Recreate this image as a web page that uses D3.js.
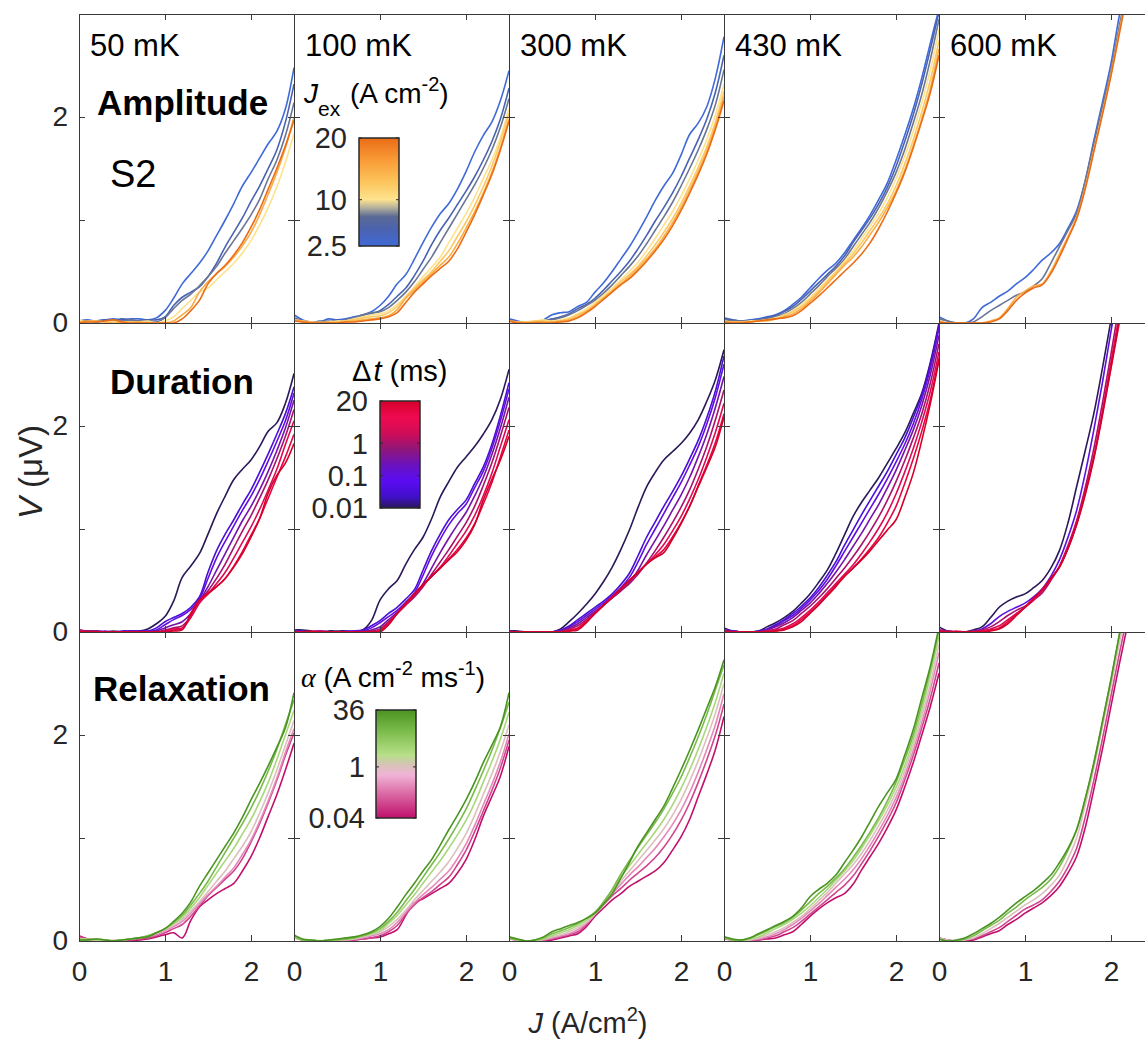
<!DOCTYPE html>
<html>
<head>
<meta charset="utf-8">
<script src="https://cdn.jsdelivr.net/npm/d3@7"></script>
<style>
	body { margin: 0; background: #fff; }
	svg { display: block; font-family: "Liberation Sans", Arial, Helvetica, sans-serif; }
</style>
</head>
<body>
<svg id="chart" width="1145" height="1042"></svg>
<script>
/* V(J) curves at five temperatures, three excitation protocols */

var temps = ["50 mK", "100 mK", "300 mK", "430 mK", "600 mK"];
var jGrid = [0, 0.1, 0.2, 0.3, 0.4, 0.5, 0.6, 0.7, 0.8, 0.9, 1, 1.1, 1.2, 1.3, 1.4, 1.5, 1.6, 1.7, 1.8, 1.9, 2, 2.1, 2.2, 2.3, 2.4, 2.5];

// amplitude J_ex (A cm-2)
var ampLevels = [2.5, 5, 7.5, 10, 12.5, 15, 20];
var ampTicks = [2.5, 10, 20];
var amp50 = [
	[0.02,0.03,0.02,0.03,0.04,0.03,0.04,0.04,0.03,0.05,0.12,0.24,0.38,0.48,0.58,0.70,0.85,1.00,1.16,1.33,1.46,1.60,1.74,1.86,2.08,2.48],
	[0.02,0.01,0.02,0.03,0.02,0.04,0.03,0.02,0.03,0.03,0.06,0.17,0.25,0.30,0.35,0.45,0.58,0.74,0.88,1.02,1.18,1.33,1.50,1.68,1.95,2.32],
	[0.01,0.02,0.01,0.02,0.03,0.02,0.03,0.02,0.02,0.01,0.05,0.14,0.22,0.28,0.36,0.45,0.55,0.68,0.80,0.92,1.05,1.20,1.40,1.58,1.82,2.14],
	[0.03,0.01,0.02,0.01,0.02,0.01,0.00,0.01,0.02,0.00,0.02,0.06,0.14,0.22,0.30,0.34,0.42,0.50,0.58,0.68,0.80,0.95,1.12,1.32,1.56,1.84],
	null,
	[0.01,0.02,0.02,0.01,0.00,0.01,0.01,0.01,0.00,0.00,0.00,0.02,0.08,0.15,0.30,0.40,0.48,0.55,0.64,0.75,0.88,1.05,1.25,1.46,1.70,2.00],
	[0.00,0.01,0.01,0.02,0.03,0.01,0.00,0.00,0.00,0.00,0.00,0.00,0.04,0.12,0.22,0.38,0.48,0.56,0.66,0.78,0.93,1.10,1.30,1.50,1.72,1.97]
];
var amp100 = [
	[0.08,0.03,0.01,0.01,0.04,0.03,0.04,0.06,0.08,0.11,0.17,0.26,0.38,0.47,0.62,0.78,0.93,1.06,1.16,1.30,1.47,1.66,1.82,1.95,2.16,2.45],
	[0.05,0.02,0.00,0.02,0.01,0.03,0.02,0.04,0.07,0.09,0.12,0.18,0.26,0.34,0.46,0.60,0.76,0.90,1.02,1.15,1.28,1.42,1.58,1.76,1.98,2.28],
	[0.04,0.01,0.00,0.01,0.02,0.01,0.03,0.05,0.08,0.10,0.11,0.15,0.22,0.30,0.40,0.52,0.64,0.78,0.92,1.06,1.20,1.34,1.50,1.68,1.90,2.18],
	[0.03,0.02,0.01,0.00,0.01,0.02,0.02,0.04,0.06,0.08,0.09,0.12,0.18,0.26,0.35,0.45,0.54,0.64,0.78,0.92,1.06,1.22,1.40,1.58,1.80,2.08],
	[0.04,0.01,0.00,0.01,0.00,0.01,0.02,0.03,0.05,0.06,0.07,0.10,0.16,0.25,0.34,0.42,0.50,0.60,0.70,0.84,0.98,1.14,1.32,1.52,1.76,2.04],
	[0.03,0.02,0.01,0.00,0.01,0.00,0.01,0.02,0.03,0.04,0.05,0.07,0.13,0.24,0.32,0.40,0.48,0.56,0.64,0.77,0.92,1.08,1.26,1.46,1.70,1.98],
	[0.02,0.01,0.00,0.00,0.00,0.00,0.01,0.01,0.02,0.03,0.04,0.06,0.10,0.20,0.30,0.38,0.46,0.53,0.60,0.72,0.88,1.05,1.24,1.44,1.68,1.96]
];
var amp300 = [
	[0.04,0.02,0.00,0.00,0.03,0.08,0.10,0.11,0.16,0.20,0.30,0.39,0.50,0.62,0.74,0.88,1.03,1.19,1.33,1.45,1.63,1.83,1.94,2.10,2.38,2.78],
	[0.03,0.01,0.00,0.01,0.02,0.04,0.06,0.09,0.14,0.18,0.24,0.32,0.41,0.50,0.60,0.72,0.85,0.99,1.12,1.26,1.42,1.60,1.78,1.98,2.24,2.60],
	[0.03,0.01,0.00,0.00,0.02,0.03,0.05,0.08,0.12,0.17,0.22,0.29,0.37,0.46,0.55,0.65,0.77,0.90,1.03,1.17,1.33,1.50,1.68,1.88,2.12,2.46],
	[0.02,0.00,0.01,0.02,0.03,0.02,0.03,0.05,0.09,0.14,0.20,0.27,0.34,0.42,0.50,0.59,0.70,0.82,0.95,1.08,1.23,1.40,1.58,1.78,2.02,2.32],
	[0.02,0.01,0.01,0.02,0.02,0.01,0.02,0.04,0.08,0.12,0.18,0.25,0.32,0.40,0.47,0.55,0.65,0.76,0.88,1.01,1.16,1.33,1.51,1.71,1.95,2.25],
	[0.02,0.01,0.00,0.01,0.01,0.01,0.02,0.03,0.06,0.11,0.17,0.24,0.31,0.38,0.45,0.53,0.62,0.72,0.84,0.97,1.12,1.29,1.47,1.67,1.91,2.20],
	[0.02,0.00,0.00,0.00,0.00,0.00,0.01,0.02,0.05,0.10,0.16,0.23,0.30,0.37,0.43,0.51,0.60,0.70,0.81,0.94,1.09,1.26,1.44,1.64,1.88,2.16]
];
var amp430 = [
	[0.05,0.03,0.02,0.03,0.04,0.06,0.08,0.12,0.18,0.25,0.34,0.43,0.51,0.58,0.68,0.80,0.92,1.05,1.20,1.36,1.58,1.82,2.08,2.38,2.72,3.05],
	[0.04,0.03,0.02,0.02,0.03,0.05,0.07,0.11,0.16,0.23,0.31,0.39,0.47,0.55,0.65,0.78,0.90,1.02,1.16,1.32,1.52,1.76,2.02,2.32,2.66,3.02],
	[0.03,0.02,0.02,0.02,0.03,0.04,0.06,0.09,0.14,0.20,0.28,0.36,0.45,0.53,0.62,0.74,0.86,0.98,1.12,1.28,1.46,1.68,1.94,2.22,2.56,2.95],
	[0.02,0.01,0.01,0.02,0.02,0.03,0.05,0.08,0.12,0.18,0.25,0.33,0.42,0.50,0.60,0.70,0.82,0.94,1.07,1.22,1.40,1.62,1.86,2.14,2.46,2.85],
	[0.02,0.01,0.01,0.01,0.02,0.03,0.04,0.07,0.11,0.16,0.23,0.31,0.40,0.49,0.58,0.67,0.78,0.90,1.02,1.16,1.33,1.54,1.78,2.05,2.36,2.74],
	[0.01,0.01,0.01,0.01,0.02,0.02,0.04,0.06,0.09,0.14,0.21,0.29,0.38,0.47,0.56,0.64,0.74,0.86,0.98,1.12,1.28,1.48,1.72,1.98,2.28,2.66],
	[0.01,0.00,0.00,0.01,0.02,0.03,0.04,0.05,0.07,0.12,0.19,0.26,0.34,0.42,0.50,0.58,0.67,0.78,0.92,1.08,1.26,1.46,1.70,1.96,2.24,2.60]
];
var amp600 = [
	[0.06,0.02,0.00,0.00,0.04,0.15,0.20,0.26,0.31,0.38,0.44,0.52,0.61,0.68,0.77,0.92,1.09,1.38,1.77,2.14,2.52,3.00,3.40,3.80,4.20,4.60],
	null,
	[0.04,0.02,0.00,0.00,0.01,0.06,0.12,0.17,0.22,0.27,0.30,0.36,0.43,0.58,0.74,0.90,1.06,1.38,1.74,2.10,2.45,2.90,3.30,3.70,4.10,4.50],
	null,
	null,
	[0.02,0.00,0.00,0.00,0.00,0.00,0.02,0.05,0.14,0.25,0.31,0.36,0.38,0.50,0.67,0.84,1.03,1.32,1.68,2.04,2.42,2.85,3.30,3.70,4.10,4.50],
	[0.01,0.00,0.00,0.00,0.00,0.00,0.01,0.04,0.12,0.22,0.29,0.34,0.37,0.48,0.64,0.82,1.01,1.30,1.66,2.02,2.40,2.82,3.25,3.70,4.10,4.50]
];

// pulse duration Δt (ms)
var durLevels = [0.01, 0.03, 0.1, 0.3, 1, 3, 10, 20];
var durTicks = [0.01, 0.1, 1, 20];
var dur50 = [
	[0.02,0.01,0.01,0.00,0.01,0.00,0.01,0.01,0.03,0.08,0.15,0.30,0.53,0.64,0.76,0.95,1.15,1.32,1.48,1.58,1.67,1.80,1.95,2.03,2.22,2.51],
	[0.01,0.00,0.01,0.00,0.00,0.01,0.01,0.01,0.01,0.04,0.10,0.14,0.18,0.24,0.34,0.58,0.79,0.95,1.09,1.24,1.38,1.55,1.73,1.92,2.12,2.38],
	[0.01,0.00,0.00,0.01,0.00,0.00,0.01,0.00,0.01,0.02,0.07,0.12,0.16,0.22,0.32,0.52,0.72,0.88,1.03,1.18,1.32,1.48,1.66,1.85,2.05,2.32],
	[0.01,0.01,0.00,0.00,0.00,0.00,0.00,0.00,0.00,0.01,0.04,0.07,0.10,0.18,0.30,0.44,0.60,0.76,0.92,1.08,1.22,1.38,1.56,1.76,1.98,2.25],
	[0.02,0.01,0.01,0.00,0.00,0.00,0.00,0.00,0.00,0.00,0.02,0.04,0.06,0.15,0.30,0.40,0.52,0.66,0.82,0.98,1.13,1.30,1.48,1.68,1.90,2.16],
	[0.01,0.00,0.00,0.00,0.00,0.00,0.00,0.00,0.00,0.00,0.01,0.03,0.04,0.14,0.28,0.37,0.47,0.58,0.72,0.87,1.02,1.19,1.38,1.58,1.82,2.05],
	[0.01,0.00,0.00,0.00,0.00,0.00,0.00,0.00,0.00,0.00,0.00,0.02,0.03,0.16,0.30,0.37,0.44,0.52,0.64,0.78,0.94,1.10,1.30,1.50,1.70,1.92],
	[0.00,0.00,0.00,0.00,0.00,0.00,0.00,0.00,0.00,0.00,0.00,0.01,0.02,0.18,0.31,0.38,0.44,0.52,0.63,0.76,0.92,1.10,1.35,1.52,1.64,1.83]
];
var dur100 = [
	[0.02,0.02,0.01,0.00,0.01,0.01,0.01,0.00,0.02,0.11,0.31,0.42,0.50,0.66,0.80,0.92,1.10,1.31,1.46,1.60,1.70,1.80,1.92,2.06,2.26,2.55],
	[0.01,0.01,0.00,0.01,0.00,0.00,0.01,0.01,0.02,0.06,0.11,0.18,0.24,0.32,0.41,0.60,0.79,0.95,1.09,1.19,1.28,1.44,1.60,1.82,2.10,2.42],
	[0.01,0.00,0.00,0.01,0.00,0.00,0.00,0.01,0.01,0.04,0.09,0.15,0.21,0.29,0.38,0.55,0.74,0.90,1.04,1.15,1.24,1.40,1.56,1.78,2.05,2.36],
	[0.01,0.00,0.00,0.00,0.00,0.00,0.00,0.00,0.01,0.02,0.05,0.12,0.19,0.27,0.35,0.47,0.62,0.77,0.91,1.04,1.16,1.32,1.50,1.72,1.98,2.28],
	[0.01,0.00,0.00,0.00,0.00,0.00,0.00,0.00,0.00,0.01,0.03,0.10,0.18,0.26,0.34,0.44,0.56,0.68,0.80,0.93,1.06,1.22,1.42,1.64,1.90,2.18],
	[0.00,0.00,0.00,0.01,0.00,0.00,0.00,0.00,0.00,0.00,0.02,0.09,0.18,0.27,0.36,0.45,0.54,0.63,0.74,0.86,0.98,1.13,1.32,1.54,1.80,2.06],
	[0.00,0.00,0.01,0.00,0.00,0.00,0.00,0.00,0.00,0.00,0.01,0.08,0.18,0.28,0.37,0.46,0.54,0.62,0.71,0.80,0.91,1.05,1.24,1.45,1.70,1.96],
	[0.00,0.00,0.00,0.00,0.00,0.00,0.00,0.00,0.00,0.00,0.00,0.07,0.18,0.28,0.37,0.46,0.54,0.62,0.70,0.78,0.89,1.04,1.28,1.48,1.67,1.90]
];
var dur300 = [
	[0.01,0.01,0.00,0.00,0.00,0.00,0.03,0.10,0.18,0.27,0.37,0.49,0.63,0.80,0.99,1.21,1.41,1.55,1.67,1.75,1.83,1.93,2.06,2.24,2.45,2.74],
	[0.01,0.00,0.00,0.00,0.00,0.00,0.02,0.06,0.12,0.18,0.24,0.30,0.37,0.46,0.57,0.74,0.92,1.07,1.22,1.36,1.51,1.68,1.86,2.08,2.34,2.68],
	[0.01,0.00,0.00,0.00,0.00,0.00,0.01,0.05,0.10,0.16,0.22,0.28,0.35,0.43,0.53,0.68,0.85,1.00,1.15,1.30,1.45,1.62,1.80,2.02,2.28,2.60],
	[0.01,0.00,0.00,0.00,0.00,0.00,0.01,0.04,0.08,0.14,0.20,0.26,0.33,0.40,0.48,0.60,0.75,0.89,1.03,1.18,1.33,1.50,1.70,1.92,2.18,2.48],
	[0.00,0.00,0.00,0.00,0.00,0.00,0.00,0.03,0.06,0.12,0.19,0.26,0.33,0.40,0.47,0.56,0.67,0.79,0.92,1.06,1.21,1.38,1.58,1.80,2.06,2.35],
	[0.00,0.00,0.00,0.00,0.00,0.00,0.00,0.02,0.04,0.11,0.18,0.26,0.34,0.42,0.50,0.58,0.66,0.75,0.85,0.98,1.12,1.29,1.48,1.70,1.94,2.22],
	[0.00,0.00,0.00,0.00,0.00,0.00,0.00,0.01,0.03,0.10,0.18,0.26,0.34,0.42,0.50,0.58,0.66,0.73,0.80,0.92,1.06,1.22,1.42,1.62,1.84,2.12],
	[0.00,0.00,0.00,0.00,0.00,0.00,0.00,0.01,0.02,0.09,0.18,0.26,0.34,0.42,0.50,0.58,0.66,0.72,0.77,0.90,1.05,1.22,1.41,1.60,1.80,2.09]
];
var dur430 = [
	[0.04,0.01,0.00,0.00,0.01,0.05,0.09,0.14,0.20,0.28,0.37,0.48,0.60,0.76,0.94,1.12,1.26,1.38,1.50,1.64,1.78,1.93,2.12,2.32,2.62,3.00],
	[0.02,0.01,0.00,0.00,0.01,0.03,0.07,0.12,0.18,0.25,0.33,0.43,0.55,0.68,0.84,0.99,1.14,1.28,1.42,1.56,1.72,1.88,2.08,2.30,2.60,2.98],
	[0.02,0.01,0.00,0.00,0.00,0.02,0.06,0.11,0.16,0.23,0.31,0.40,0.51,0.64,0.78,0.92,1.06,1.20,1.34,1.49,1.65,1.82,2.02,2.26,2.56,2.95],
	[0.01,0.01,0.00,0.00,0.00,0.02,0.05,0.09,0.14,0.21,0.28,0.37,0.47,0.58,0.70,0.83,0.96,1.10,1.24,1.40,1.57,1.76,1.96,2.20,2.50,2.88],
	[0.01,0.00,0.00,0.00,0.00,0.01,0.03,0.07,0.11,0.18,0.25,0.33,0.42,0.52,0.62,0.73,0.85,0.98,1.12,1.28,1.46,1.66,1.88,2.12,2.42,2.80],
	[0.01,0.00,0.00,0.00,0.00,0.01,0.02,0.04,0.08,0.14,0.21,0.29,0.38,0.47,0.56,0.65,0.76,0.88,1.01,1.16,1.34,1.55,1.78,2.04,2.34,2.72],
	[0.01,0.00,0.00,0.00,0.00,0.00,0.01,0.03,0.06,0.12,0.19,0.27,0.36,0.45,0.54,0.62,0.71,0.81,0.92,1.06,1.22,1.44,1.68,1.95,2.26,2.66],
	[0.00,0.00,0.00,0.00,0.00,0.00,0.01,0.02,0.05,0.10,0.18,0.26,0.35,0.44,0.54,0.62,0.70,0.79,0.89,0.99,1.09,1.30,1.54,1.86,2.22,2.64]
];
var dur600 = [
	[0.05,0.01,0.00,0.00,0.02,0.05,0.14,0.24,0.30,0.34,0.37,0.43,0.50,0.62,0.79,1.06,1.41,1.76,2.12,2.56,3.03,3.50,4.00,4.50,5.00,5.50],
	null,
	[0.02,0.01,0.00,0.00,0.01,0.03,0.08,0.15,0.20,0.24,0.28,0.34,0.42,0.54,0.70,0.92,1.18,1.54,1.96,2.42,2.92,3.40,3.90,4.40,4.90,5.40],
	null,
	[0.02,0.01,0.00,0.00,0.01,0.02,0.05,0.10,0.16,0.21,0.25,0.31,0.38,0.50,0.64,0.84,1.08,1.40,1.78,2.22,2.70,3.20,3.70,4.20,4.70,5.20],
	[0.01,0.00,0.00,0.00,0.00,0.01,0.03,0.06,0.12,0.18,0.24,0.31,0.40,0.51,0.63,0.82,1.05,1.36,1.70,2.14,2.62,3.10,3.60,4.10,4.60,5.10],
	[0.01,0.00,0.01,0.00,0.00,0.01,0.02,0.04,0.10,0.17,0.24,0.32,0.41,0.52,0.63,0.81,1.05,1.35,1.70,2.12,2.58,3.05,3.50,4.00,4.50,5.00],
	[0.00,0.00,0.00,0.00,0.00,0.00,0.01,0.03,0.08,0.16,0.24,0.33,0.41,0.52,0.63,0.81,1.04,1.33,1.68,2.10,2.56,3.02,3.50,4.00,4.50,5.00]
];

// relaxation rate α (A cm-2 ms-1)
var relLevels = [0.04, 0.1, 0.3, 1, 3, 10, 36];
var relTicks = [0.04, 1, 36];
var rel50 = [
	[0.05,0.02,0.01,0.00,0.00,0.00,0.00,0.01,0.02,0.04,0.06,0.08,0.03,0.20,0.33,0.40,0.46,0.51,0.56,0.68,0.82,1.00,1.21,1.42,1.66,1.92],
	[0.04,0.02,0.01,0.00,0.00,0.01,0.01,0.02,0.03,0.05,0.08,0.12,0.16,0.24,0.34,0.44,0.52,0.60,0.68,0.80,0.96,1.14,1.34,1.56,1.80,2.02],
	[0.03,0.01,0.00,0.01,0.00,0.01,0.02,0.03,0.04,0.06,0.10,0.14,0.19,0.27,0.36,0.45,0.53,0.62,0.71,0.84,0.98,1.16,1.36,1.58,1.83,2.06],
	[0.02,0.01,0.01,0.00,0.01,0.01,0.02,0.03,0.05,0.08,0.11,0.16,0.21,0.29,0.38,0.48,0.58,0.68,0.80,0.92,1.06,1.24,1.44,1.66,1.90,2.14],
	[0.02,0.02,0.01,0.01,0.00,0.01,0.02,0.03,0.05,0.08,0.12,0.17,0.23,0.32,0.42,0.54,0.66,0.78,0.90,1.04,1.18,1.35,1.54,1.76,2.00,2.24],
	[0.01,0.01,0.02,0.01,0.00,0.01,0.02,0.03,0.05,0.08,0.12,0.18,0.25,0.35,0.46,0.58,0.72,0.86,1.00,1.14,1.29,1.46,1.65,1.86,2.10,2.34],
	[0.01,0.01,0.02,0.01,0.00,0.01,0.02,0.03,0.04,0.08,0.12,0.19,0.27,0.38,0.53,0.66,0.79,0.92,1.05,1.20,1.37,1.53,1.70,1.88,2.07,2.41]
];
var rel100 = [
	[0.04,0.01,0.00,0.00,0.00,0.00,0.01,0.01,0.02,0.03,0.04,0.07,0.11,0.25,0.37,0.41,0.46,0.51,0.56,0.66,0.79,0.98,1.21,1.40,1.60,1.89],
	[0.04,0.01,0.00,0.00,0.00,0.00,0.00,0.01,0.02,0.03,0.05,0.09,0.15,0.26,0.35,0.42,0.48,0.55,0.62,0.74,0.88,1.06,1.26,1.46,1.68,1.95],
	[0.03,0.01,0.00,0.00,0.00,0.00,0.01,0.02,0.03,0.05,0.07,0.11,0.18,0.28,0.37,0.45,0.52,0.60,0.68,0.80,0.94,1.12,1.32,1.52,1.74,2.01],
	[0.03,0.01,0.00,0.00,0.00,0.01,0.01,0.02,0.04,0.06,0.09,0.14,0.21,0.30,0.40,0.49,0.58,0.67,0.77,0.90,1.04,1.22,1.42,1.62,1.84,2.10],
	[0.04,0.01,0.01,0.00,0.00,0.01,0.02,0.03,0.05,0.07,0.10,0.17,0.25,0.35,0.45,0.56,0.67,0.78,0.90,1.03,1.17,1.34,1.54,1.74,1.96,2.22],
	[0.05,0.01,0.01,0.00,0.01,0.01,0.02,0.03,0.05,0.08,0.12,0.19,0.28,0.39,0.50,0.62,0.74,0.86,0.99,1.13,1.28,1.46,1.65,1.85,2.07,2.32],
	[0.06,0.02,0.01,0.00,0.01,0.02,0.03,0.04,0.06,0.09,0.14,0.22,0.33,0.45,0.56,0.68,0.79,0.93,1.08,1.22,1.37,1.54,1.73,1.90,2.08,2.41]
];
var rel300 = [
	[0.02,0.01,0.00,0.00,0.00,0.01,0.03,0.05,0.07,0.14,0.24,0.32,0.40,0.46,0.53,0.58,0.63,0.68,0.76,0.88,1.01,1.18,1.40,1.62,1.86,2.18],
	[0.02,0.01,0.00,0.00,0.01,0.02,0.04,0.06,0.09,0.16,0.26,0.35,0.44,0.51,0.59,0.66,0.73,0.81,0.91,1.03,1.17,1.34,1.54,1.76,2.00,2.30],
	[0.02,0.01,0.00,0.00,0.01,0.03,0.05,0.07,0.11,0.17,0.26,0.36,0.46,0.55,0.64,0.72,0.81,0.90,1.01,1.13,1.27,1.44,1.64,1.86,2.10,2.40],
	[0.03,0.01,0.00,0.00,0.02,0.04,0.06,0.09,0.13,0.18,0.26,0.36,0.47,0.58,0.68,0.78,0.88,0.98,1.09,1.22,1.37,1.55,1.75,1.97,2.21,2.50],
	[0.03,0.01,0.00,0.00,0.02,0.05,0.08,0.11,0.15,0.20,0.27,0.37,0.49,0.62,0.73,0.84,0.95,1.06,1.18,1.32,1.48,1.66,1.86,2.08,2.32,2.60],
	[0.03,0.01,0.00,0.01,0.03,0.07,0.10,0.13,0.17,0.22,0.28,0.38,0.50,0.65,0.78,0.91,1.03,1.15,1.28,1.43,1.59,1.78,1.98,2.20,2.44,2.68],
	[0.04,0.02,0.00,0.01,0.04,0.09,0.12,0.15,0.18,0.22,0.27,0.36,0.46,0.61,0.76,0.92,1.05,1.18,1.31,1.48,1.66,1.85,2.05,2.26,2.47,2.73]
];
var rel430 = [
	[0.02,0.01,0.00,0.00,0.01,0.02,0.03,0.06,0.09,0.16,0.24,0.31,0.37,0.42,0.46,0.55,0.69,0.82,0.95,1.10,1.27,1.49,1.73,2.00,2.28,2.60],
	[0.02,0.01,0.00,0.00,0.01,0.03,0.05,0.09,0.13,0.19,0.26,0.33,0.40,0.47,0.54,0.63,0.75,0.88,1.02,1.17,1.34,1.56,1.80,2.07,2.36,2.70],
	[0.03,0.01,0.00,0.01,0.02,0.04,0.07,0.11,0.16,0.22,0.29,0.36,0.44,0.52,0.60,0.69,0.80,0.93,1.07,1.22,1.39,1.60,1.85,2.12,2.44,2.80],
	[0.03,0.01,0.00,0.01,0.03,0.06,0.09,0.13,0.18,0.24,0.31,0.39,0.47,0.56,0.65,0.74,0.85,0.98,1.12,1.27,1.44,1.65,1.90,2.18,2.50,2.88],
	[0.03,0.01,0.00,0.02,0.04,0.08,0.12,0.16,0.21,0.27,0.34,0.42,0.50,0.59,0.68,0.78,0.90,1.03,1.17,1.32,1.49,1.70,1.95,2.24,2.58,2.96],
	[0.04,0.01,0.01,0.03,0.06,0.10,0.14,0.18,0.23,0.30,0.38,0.46,0.53,0.61,0.70,0.81,0.93,1.06,1.20,1.36,1.54,1.76,2.00,2.30,2.64,3.02],
	[0.04,0.02,0.01,0.03,0.07,0.11,0.15,0.19,0.24,0.32,0.43,0.50,0.56,0.64,0.76,0.88,1.01,1.16,1.31,1.44,1.57,1.80,2.05,2.36,2.67,3.05]
];
var rel600 = [
	[0.03,0.01,0.00,0.00,0.01,0.04,0.07,0.10,0.16,0.21,0.27,0.32,0.37,0.44,0.53,0.66,0.82,1.10,1.47,1.86,2.28,2.70,3.10,3.50,3.90,4.30],
	[0.03,0.01,0.00,0.01,0.02,0.05,0.09,0.13,0.19,0.25,0.31,0.35,0.40,0.48,0.58,0.72,0.90,1.20,1.56,1.96,2.38,2.80,3.20,3.60,4.00,4.40],
	null,
	[0.03,0.01,0.00,0.01,0.03,0.07,0.12,0.17,0.23,0.29,0.35,0.40,0.46,0.54,0.64,0.80,1.00,1.32,1.68,2.08,2.48,2.90,3.30,3.70,4.10,4.50],
	null,
	[0.02,0.00,0.00,0.02,0.05,0.10,0.15,0.20,0.27,0.33,0.40,0.46,0.52,0.60,0.72,0.88,1.08,1.38,1.72,2.12,2.54,2.98,3.40,3.80,4.20,4.60],
	[0.02,0.00,0.01,0.03,0.07,0.12,0.17,0.23,0.30,0.37,0.43,0.49,0.56,0.64,0.76,0.90,1.08,1.38,1.73,2.13,2.54,2.99,3.40,3.80,4.20,4.60]
];

// colormaps: [fraction from bottom of bar, colour]
var ampMap = [[0, "#3f6ad8"], [0.15, "#4a63b0"], [0.27, "#5a6994"], [0.36, "#b9b49c"], [0.43, "#fde38e"], [0.6, "#fcc35a"], [0.8, "#f99a36"], [1, "#ea6c16"]];
var durMap = [[0, "#2a1858"], [0.1, "#4010c8"], [0.25, "#5a0cf4"], [0.4, "#6a12c0"], [0.55, "#901678"], [0.7, "#d00c58"], [0.85, "#f00a50"], [1, "#d4002a"]];
var relMap = [[0, "#c0106c"], [0.2, "#d8609e"], [0.4, "#f0b4d6"], [0.5, "#d4c4b4"], [0.58, "#b8e08a"], [0.8, "#7cbc4c"], [1, "#4a9422"]];

var svg = d3.select("#chart"),
	defs = svg.append("defs"),
	plotLeft = 79,
	plotTop = 14,
	pw = 215,
	ph = 309,
	frameColor = "#3a3a3a",
	textColor = "#262626";

var x = d3.scaleLinear().domain([0, 2.5]).range([0, pw]),
	y = d3.scaleLinear().domain([0, 3]).range([ph, 0]);

function mapScale(map) {
	return d3.scaleLinear()
		.domain(map.map(function(d) { return d[0]; }))
		.range(map.map(function(d) { return d[1]; }))
		.clamp(true);
}

var ampBar = d3.scaleLinear().domain([2.5, 20]).range([0, 1]),
	durBar = d3.scaleLog().domain([0.01, 20]).range([0, 1]),
	relBar = d3.scaleLog().domain([0.04, 36]).range([0, 1]);

var rows = [
	{ name: "Amplitude", nameX: 97, nameY: 115, levels: ampLevels, panels: [amp50, amp100, amp300, amp430, amp600],
		map: ampMap, frac: ampBar, ticks: ampTicks,
		bar: { x: 359, y0: 138, y1: 246, labelX: 347 } },
	{ name: "Duration", nameX: 110, nameY: 394, levels: durLevels, panels: [dur50, dur100, dur300, dur430, dur600],
		map: durMap, frac: durBar, ticks: durTicks,
		bar: { x: 380, y0: 401, y1: 508, labelX: 368 } },
	{ name: "Relaxation", nameX: 93, nameY: 701, levels: relLevels, panels: [rel50, rel100, rel300, rel430, rel600],
		map: relMap, frac: relBar, ticks: relTicks,
		bar: { x: 376, y0: 710, y1: 818, labelX: 365 } }
];

var line = d3.line()
	.x(function(d, i) { return x(jGrid[i]); })
	.y(function(d) { return y(d); })
	.curve(d3.curveCatmullRom.alpha(0.5));

function styleAxis(g) {
	g.attr("font-family", null).attr("font-size", null);
	g.select(".domain").attr("stroke", frameColor).attr("stroke-width", 1);
	g.selectAll(".tick line").attr("stroke", frameColor);
	g.selectAll(".tick text").attr("fill", textColor).style("font-size", "28px");
}

var intFmt = d3.format("d");

rows.forEach(function(row, r) {
	var color = mapScale(row.map);
	row.panels.forEach(function(curves, c) {
		var g = svg.append("g")
			.attr("transform", "translate(" + (plotLeft + c * pw) + "," + (plotTop + r * ph) + ")");
		var clipId = "clip-" + r + "-" + c;
		defs.append("clipPath").attr("id", clipId)
			.append("rect").attr("width", pw).attr("height", ph);

		var series = curves.map(function(v, i) { return { level: row.levels[i], v: v }; })
			.filter(function(d) { return d.v; });

		g.append("g")
			.attr("clip-path", "url(#" + clipId + ")")
			.selectAll("path")
			.data(series)
			.join("path")
			.attr("fill", "none")
			.attr("stroke", function(d) { return color(row.frac(d.level)); })
			.attr("stroke-width", 1.6)
			.attr("stroke-linejoin", "round")
			.attr("d", function(d) { return line(d.v); });

		// box with inward ticks on all four sides
		var bottomAxis = d3.axisBottom(x).tickValues([0, 1, 2]).tickSize(-6).tickSizeOuter(0).tickPadding(20)
			.tickFormat(r < 2 ? "" : intFmt);
		g.append("g").attr("transform", "translate(0," + ph + ")").call(bottomAxis).call(styleAxis);
		g.append("g").call(d3.axisTop(x).tickValues([0, 1, 2]).tickSize(-6).tickSizeOuter(0).tickFormat("")).call(styleAxis);

		var leftAxis = d3.axisLeft(y).tickValues([0, 1, 2]).tickSize(-6).tickSizeOuter(0).tickPadding(11)
			.tickFormat(function(d) { return (c > 0 || d === 1) ? "" : intFmt(d); });
		g.append("g").call(leftAxis).call(styleAxis);
		g.append("g").attr("transform", "translate(" + pw + ",0)")
			.call(d3.axisRight(y).tickValues([0, 1, 2]).tickSize(-6).tickSizeOuter(0).tickFormat("")).call(styleAxis);

		if (r === 0) {
			g.append("text")
				.attr("x", 11).attr("y", 42)
				.style("font-size", "31px")
				.attr("fill", "#000")
				.text(temps[c]);
		}
	});

	// row name
	svg.append("text")
		.attr("x", row.nameX).attr("y", row.nameY)
		.style("font-size", "35px").style("font-weight", "bold")
		.attr("fill", "#000")
		.text(row.name);

	// colour bar
	var b = row.bar, gid = "grad-" + r;
	var grad = defs.append("linearGradient").attr("id", gid)
		.attr("x1", 0).attr("y1", 1).attr("x2", 0).attr("y2", 0);
	grad.selectAll("stop").data(row.map).join("stop")
		.attr("offset", function(d) { return d[0]; })
		.attr("stop-color", function(d) { return d[1]; });
	var barY = row.frac.copy().range([b.y1, b.y0]);
	svg.append("rect")
		.attr("x", b.x).attr("y", b.y0)
		.attr("width", 40).attr("height", b.y1 - b.y0)
		.attr("fill", "url(#" + gid + ")")
		.attr("stroke", "#2a2a2a").attr("stroke-width", 1.5);
	var bt = svg.append("g").selectAll("g").data(row.ticks).join("g");
	bt.append("line")
		.attr("x1", b.x).attr("x2", b.x + 3)
		.attr("y1", function(d) { return barY(d); }).attr("y2", function(d) { return barY(d); })
		.attr("stroke", "#2a2a2a");
	bt.append("line")
		.attr("x1", b.x + 37).attr("x2", b.x + 40)
		.attr("y1", function(d) { return barY(d); }).attr("y2", function(d) { return barY(d); })
		.attr("stroke", "#2a2a2a");
	bt.append("text")
		.attr("x", b.labelX).attr("y", function(d) { return barY(d); })
		.attr("dy", "0.36em")
		.attr("text-anchor", "end")
		.attr("fill", textColor)
		.style("font-size", "29px")
		.text(function(d) { return d; });
});

// "S2" sample tag
svg.append("text").attr("x", 110).attr("y", 187).style("font-size", "38px").attr("fill", "#000").text("S2");

// colour bar titles
var t1 = svg.append("text").attr("x", 304).attr("y", 103).style("font-size", "28px").attr("fill", "#000");
t1.append("tspan").style("font-style", "italic").text("J");
t1.append("tspan").attr("dy", 13).style("font-size", "21px").text("ex");
t1.append("tspan").attr("dy", -13).attr("dx", 2).text(" (A cm");
t1.append("tspan").attr("dy", -12).style("font-size", "20px").text("-2");
t1.append("tspan").attr("dy", 12).text(")");

var t2 = svg.append("text").attr("x", 352).attr("y", 381).style("font-size", "29px").attr("fill", "#000");
t2.append("tspan").text("\u0394");
t2.append("tspan").style("font-style", "italic").attr("dx", 2).text("t");
t2.append("tspan").text(" (ms)");

var t3 = svg.append("text").attr("x", 301).attr("y", 687).style("font-size", "28px").attr("fill", "#000");
t3.append("tspan").style("font-family", "'Liberation Serif', serif").style("font-style", "italic").text("\u03b1");
t3.append("tspan").text(" (A cm");
t3.append("tspan").attr("dy", -12).style("font-size", "20px").text("-2");
t3.append("tspan").attr("dy", 12).text(" ms");
t3.append("tspan").attr("dy", -12).style("font-size", "20px").text("-1");
t3.append("tspan").attr("dy", 12).text(")");

// axis titles
var yl = svg.append("text")
	.attr("transform", "translate(42,472) rotate(-90)")
	.attr("text-anchor", "middle")
	.style("font-size", "33px").attr("fill", textColor);
yl.append("tspan").style("font-style", "italic").text("V");
yl.append("tspan").text(" (\u03bcV)");

var xl = svg.append("text")
	.attr("x", 588).attr("y", 1033)
	.attr("text-anchor", "middle")
	.style("font-size", "29px").attr("fill", textColor);
xl.append("tspan").style("font-style", "italic").text("J");
xl.append("tspan").text(" (A/cm");
xl.append("tspan").attr("dy", -12).style("font-size", "20px").text("2");
xl.append("tspan").attr("dy", 12).text(")");
</script>
</body>
</html>
